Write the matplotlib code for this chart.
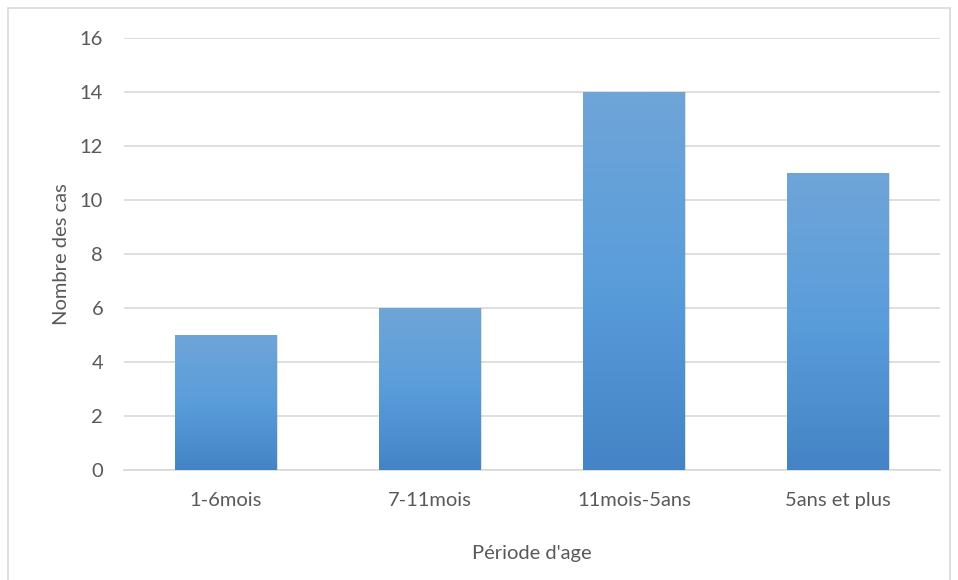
import matplotlib
matplotlib.use("Agg")
import matplotlib.pyplot as plt
import numpy as np
from matplotlib.colors import LinearSegmentedColormap
from matplotlib.patches import Rectangle

categories = ["1-6mois", "7-11mois", "11mois-5ans", "5ans et plus"]
cases = [5, 6, 14, 11]
y_ticks = [0, 2, 4, 6, 8, 10, 12, 14, 16]

TEXT = "#595959"
GRID = "#d9d9d9"
FS = 14.5

plt.rcParams['font.family'] = ['Lato', 'DejaVu Sans']

fig = plt.figure(figsize=(9.58, 5.8), dpi=100)
ax = fig.add_axes([124 / 958, 1 - 470 / 580, (940 - 124) / 958, (470 - 38) / 580])

# outer chart frame
fig.patches.append(Rectangle((8 / 958, -0.01), 942 / 958, 1 - 8 / 580 + 0.01,
                             transform=fig.transFigure, fill=False,
                             edgecolor=GRID, linewidth=1.2))

# vertical gradient for the bars, light at top, darker at the base
cmap = LinearSegmentedColormap.from_list("bar", ["#4484c6", "#5a9ddb", "#6fa5d8"])
grad = np.linspace(0, 1, 256).reshape(-1, 1)

x = np.arange(len(categories))
width = 0.5
bars = ax.bar(x, cases, width=width, color="none", zorder=3)
for rect in bars:
    bx, by = rect.get_x(), rect.get_y()
    bw, bh = rect.get_width(), rect.get_height()
    # soft shadow
    ax.add_patch(Rectangle((bx + 0.006, by), bw, bh, facecolor="#000000",
                           alpha=0.12, edgecolor="none", zorder=2.5))
    im = ax.imshow(grad, cmap=cmap, origin="lower", aspect="auto",
                   extent=(bx, bx + bw, by, by + bh), zorder=3)
    im.set_clip_path(rect)

ax.set_xlim(-0.5, len(categories) - 0.5)
ax.set_ylim(0, 16)
ax.set_yticks(y_ticks)
ax.set_xticks(x)
ax.set_xticklabels(categories)

ax.yaxis.grid(True, color=GRID, linewidth=1.2, zorder=0)
ax.set_axisbelow(True)
for s in ["top", "right", "left"]:
    ax.spines[s].set_visible(False)
ax.spines["bottom"].set_color(GRID)
ax.spines["bottom"].set_linewidth(1.2)
ax.tick_params(axis="both", length=0, colors=TEXT, labelsize=FS)
ax.tick_params(axis="y", pad=15)
ax.tick_params(axis="x", pad=16)

ax.set_xlabel("Période d'age", color=TEXT, fontsize=FS, labelpad=26)
ax.set_ylabel("Nombre des cas", color=TEXT, fontsize=FS, labelpad=7)

fig.savefig("out.png", dpi=100)
